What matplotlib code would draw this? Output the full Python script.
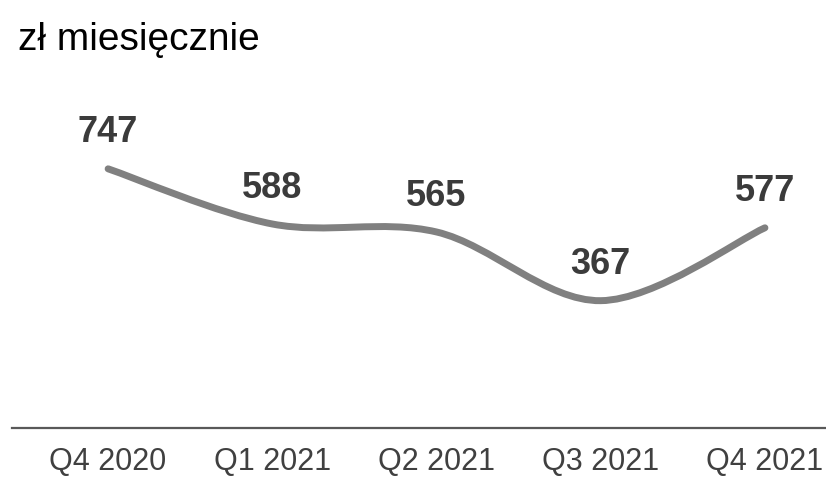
import matplotlib
matplotlib.use('Agg')
import matplotlib.pyplot as plt
from matplotlib.path import Path
from matplotlib.patches import PathPatch

quarters = ['Q4 2020', 'Q1 2021', 'Q2 2021', 'Q3 2021', 'Q4 2021']
values = [747, 588, 565, 367, 577]

LINE_COLOR = '#808080'
LABEL_COLOR = '#3b3b3b'
TICK_COLOR = '#404040'
AXIS_COLOR = '#595959'

plt.rcParams['font.family'] = ['Liberation Sans', 'DejaVu Sans']


# Catmull-Rom style smoothing -> cubic bezier path through every point
def smoothPath(xs, ys):
    pts = list(zip(xs, ys))
    verts = [pts[0]]
    codes = [Path.MOVETO]
    for i in range(len(pts) - 1):
        p0 = pts[i - 1] if i > 0 else pts[i]
        p1 = pts[i]
        p2 = pts[i + 1]
        p3 = pts[i + 2] if i + 2 < len(pts) else pts[i + 1]
        c1 = (p1[0] + (p2[0] - p0[0]) / 6, p1[1] + (p2[1] - p0[1]) / 6)
        c2 = (p2[0] - (p3[0] - p1[0]) / 6, p2[1] - (p3[1] - p1[1]) / 6)
        verts += [c1, c2, p2]
        codes += [Path.CURVE4] * 3
    return Path(verts, codes)


fig = plt.figure(figsize=(8.26, 4.78), dpi=100)
ax = fig.add_axes([12 / 826, 50 / 478, 814 / 826, 348 / 478])

xs = list(range(len(quarters)))
curve = PathPatch(smoothPath(xs, values), facecolor='none', edgecolor=LINE_COLOR,
                  lw=5, capstyle='round', joinstyle='round')
ax.add_patch(curve)

# Value labels above each point
for x, v in zip(xs, values):
    ax.annotate(str(v), (x, v), xytext=(0, 19), textcoords='offset points',
                ha='center', va='baseline', fontsize=26, fontweight='bold',
                color=LABEL_COLOR)

ax.set_xlim(-96 / 164, 4 + 61 / 164)
ax.set_ylim(0, 1003)
ax.set_xticks(xs)
ax.set_xticklabels(quarters, fontsize=22, color=TICK_COLOR)
ax.tick_params(axis='x', length=0, pad=14)
ax.set_yticks([])

for side in ('top', 'left', 'right'):
    ax.spines[side].set_visible(False)
ax.spines['bottom'].set_color(AXIS_COLOR)
ax.spines['bottom'].set_linewidth(1.6)

fig.text(18 / 826, 1 - 50 / 478, 'zł miesięcznie', fontsize=28, color='black',
         ha='left', va='baseline')

fig.savefig('out.png', dpi=100)
